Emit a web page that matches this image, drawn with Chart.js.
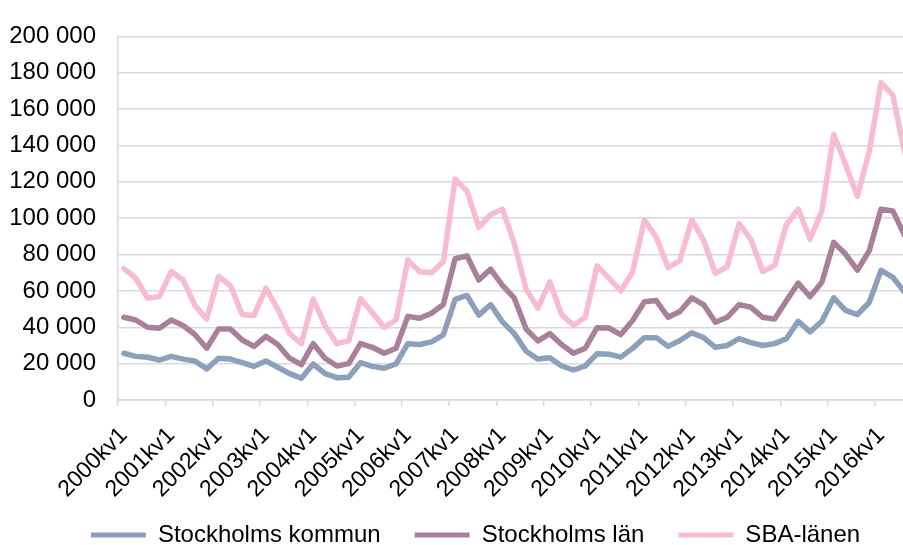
<!DOCTYPE html>
<html>
<head>
<meta charset="utf-8">
<script src="https://cdn.jsdelivr.net/npm/chart.js@4/dist/chart.umd.min.js"></script>
<style>
  html, body { margin: 0; padding: 0; background: #fff; }
  #wrap { position: relative; width: 903px; height: 545px; overflow: hidden; }
  canvas { display: block; }
</style>
</head>
<body>
<div id="wrap"><canvas id="c" width="950" height="600"></canvas></div>
<script>
const categories = [
  "2000kv1","2000kv2","2000kv3","2000kv4",
  "2001kv1","2001kv2","2001kv3","2001kv4",
  "2002kv1","2002kv2","2002kv3","2002kv4",
  "2003kv1","2003kv2","2003kv3","2003kv4",
  "2004kv1","2004kv2","2004kv3","2004kv4",
  "2005kv1","2005kv2","2005kv3","2005kv4",
  "2006kv1","2006kv2","2006kv3","2006kv4",
  "2007kv1","2007kv2","2007kv3","2007kv4",
  "2008kv1","2008kv2","2008kv3","2008kv4",
  "2009kv1","2009kv2","2009kv3","2009kv4",
  "2010kv1","2010kv2","2010kv3","2010kv4",
  "2011kv1","2011kv2","2011kv3","2011kv4",
  "2012kv1","2012kv2","2012kv3","2012kv4",
  "2013kv1","2013kv2","2013kv3","2013kv4",
  "2014kv1","2014kv2","2014kv3","2014kv4",
  "2015kv1","2015kv2","2015kv3","2015kv4",
  "2016kv1","2016kv2","2016kv3"
];

const stockholmsKommun = [
  25700, 24000, 23500, 22000,
  24000, 22500, 21500, 17000,
  23000, 22500, 20500, 18500,
  21500, 18000, 14500, 12000,
  19800, 14500, 12300, 12500,
  20500, 18500, 17500, 19800,
  31000, 30500, 32000, 35800,
  55300, 57500, 46700, 52500,
  43000, 36500, 26800, 22500,
  23200, 18700, 16500, 18700,
  25500, 25200, 23600, 28400,
  34300, 34300, 29500, 32700,
  37000, 34300, 29000, 30000,
  33700, 31600, 30000, 31000,
  33700, 43300, 37500, 43300,
  56200, 49300, 47000, 53600,
  71300, 67500, 59200
];

const stockholmsLan = [
  45500, 44000, 40000, 39500,
  44000, 41000, 36000, 28500,
  39000, 39000, 33000, 29500,
  35000, 30500, 23000, 19500,
  31000, 23000, 18700, 20000,
  31000, 29000, 25700, 28500,
  46000, 45000, 47700, 52500,
  77700, 79300, 66000, 72000,
  63000, 56000, 39000, 32500,
  36500, 30500, 25700, 28500,
  39800, 39600, 36000, 43700,
  54000, 54700, 45500, 48700,
  56200, 52500, 42800, 45500,
  52500, 51000, 45500, 44500,
  54600, 64300, 56800, 64800,
  86700, 80300, 71400, 82000,
  105000, 104000, 90400
];

const sbaLanen = [
  72300, 67000, 56000, 57000,
  70700, 66000, 52000, 44500,
  68000, 63000, 47000, 46500,
  61500, 50000, 36500, 31000,
  55500, 41000, 31000, 32500,
  55700, 48000, 40000, 44000,
  77000, 70500, 70000, 76000,
  121500, 115000, 95000, 102000,
  105000, 86000, 61000, 50500,
  65000, 47000, 41000, 45500,
  73800, 67000, 60000, 70500,
  99000, 89500, 72800, 76700,
  99000, 88000, 69600, 73400,
  97000, 88400, 70700, 74000,
  96400, 105000, 88400, 104000,
  146000, 129600, 112000, 136600,
  174600, 167700, 135700
];

const seriesNames = ["Stockholms kommun", "Stockholms län", "SBA-länen"];
const seriesColors = ["#8DA0BB", "#A9809A", "#F8BCD1"];
const yTicks = { min: 0, max: 200000, step: 20000 };

const fontFamily = "'Liberation Sans', Arial, sans-serif";
const gridColor = "#d9d9d9";
const LEGEND_PAD = 34;
const LEGEND_FONT = 24;

function fmt(v) {
  return String(v).replace(/\B(?=(\d{3})+(?!\d))/g, " ");
}

const allSeries = [stockholmsKommun, stockholmsLan, sbaLanen];

// place the legend row: centred at x=475.5, text middle at y=535
const legendPlace = {
  id: "legendPlace",
  afterLayout(chart) {
    const lg = chart.legend;
    if (!lg || !lg.lineWidths) return;
    const lw = lg.lineWidths[0];
    const current = (lg.left + LEGEND_PAD + lg.right - lw) / 2;
    const desired = 475.5 - (lw - LEGEND_PAD) / 2;
    const dx = desired - current;
    lg.left += dx;
    lg.right += dx;
    const h = lg.height;
    lg.top = 535 - LEGEND_PAD - LEGEND_FONT / 2;
    lg.bottom = lg.top + h;
  }
};

new Chart(document.getElementById("c"), {
  type: "line",
  data: {
    labels: categories,
    datasets: allSeries.map((d, i) => ({
      label: seriesNames[i],
      data: d,
      borderColor: seriesColors[i],
      backgroundColor: seriesColors[i],
      borderWidth: 5.5,
      pointRadius: 0,
      tension: 0,
      borderCapStyle: "round",
      borderJoinStyle: "round",
      fill: false
    }))
  },
  plugins: [legendPlace],
  options: {
    responsive: false,
    animation: false,
    devicePixelRatio: 1,
    layout: { padding: { left: 10, right: 39.4, top: 27, bottom: 22 } },
    plugins: {
      tooltip: { enabled: false },
      legend: {
        position: "bottom",
        labels: {
          boxWidth: 55,
          boxHeight: 5,
          padding: LEGEND_PAD,
          color: "#000",
          font: { family: fontFamily, size: LEGEND_FONT },
          generateLabels: (chart) => chart.data.datasets.map((ds, i) => ({
            text: ds.label,
            fillStyle: ds.borderColor,
            strokeStyle: ds.borderColor,
            lineWidth: 0,
            hidden: false,
            datasetIndex: i
          }))
        }
      }
    },
    scales: {
      x: {
        type: "category",
        offset: true,
        afterFit: (scale) => {
          scale.height = 110;
          scale.paddingLeft = 0;
          scale.paddingRight = 0;
        },
        grid: {
          offset: true,
          drawOnChartArea: false,
          drawTicks: true,
          tickLength: 6,
          lineWidth: 1.5,
          color: (ctx) => (ctx.index % 4 === 0 ? gridColor : "rgba(0,0,0,0)")
        },
        border: { display: true, color: gridColor, width: 1.5 },
        ticks: {
          autoSkip: false,
          minRotation: 45,
          maxRotation: 45,
          padding: 16,
          color: "#000",
          font: { family: fontFamily, size: 23 },
          callback: (val, idx) => (idx % 4 === 0 ? categories[idx] : "")
        }
      },
      y: {
        min: yTicks.min,
        max: yTicks.max,
        afterFit: (scale) => { scale.width = 108; },
        grid: {
          drawTicks: false,
          color: gridColor,
          lineWidth: 1.5
        },
        border: { display: true, color: gridColor, width: 1.5 },
        ticks: {
          stepSize: yTicks.step,
          padding: 22,
          color: "#000",
          font: { family: fontFamily, size: 24 },
          callback: (v) => fmt(v)
        }
      }
    }
  }
});
</script>
</body>
</html>
